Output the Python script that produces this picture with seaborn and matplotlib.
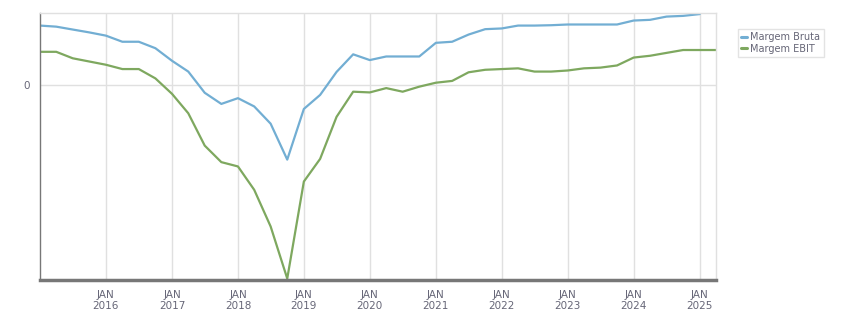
import matplotlib
matplotlib.use("Agg")
import matplotlib.pyplot as plt
import matplotlib.dates as mdates
import numpy as np
import pandas as pd
import seaborn as sns

# Quarterly dates
dates = pd.date_range("2015-01-01", periods=42, freq="QS")

margem_bruta = [16.5, 16.2, 15.4, 14.6, 13.7, 12.0, 12.0, 10.2, 6.7, 3.7, -2.2, -5.3,
                -3.7, -6.0, -10.8, -20.8, -6.7, -2.8, 3.6, 8.5, 6.9, 7.9, 7.9, 7.9,
                11.7, 12.0, 14.0, 15.5, 15.7, 16.5, 16.5, 16.6, 16.8, 16.8, 16.8, 16.8,
                17.9, 18.1, 19.0, 19.2, 19.7, np.nan]
margem_ebit = [9.2, 9.2, 7.4, 6.5, 5.6, 4.4, 4.4, 1.8, -2.5, -7.9, -16.9, -21.5,
               -22.7, -29.2, -39.4, -53.9, -26.9, -20.6, -8.9, -1.9, -2.1, -0.9, -1.9, -0.5,
               0.6, 1.1, 3.5, 4.2, 4.4, 4.6, 3.7, 3.7, 4.0, 4.6, 4.8, 5.4,
               7.6, 8.1, 8.9, 9.7, 9.7, 9.7]
series_names = ["Margem Bruta", "Margem EBIT"]
colors = ["#72aed3", "#7ea85f"]

df = pd.DataFrame({
    "data": list(dates) * 2,
    "valor": margem_bruta + margem_ebit,
    "serie": [series_names[0]] * len(dates) + [series_names[1]] * len(dates),
})

sns.set_style("white")
plt.rcParams["font.family"] = ["DejaVu Sans"]

fig = plt.figure(figsize=(8.51, 3.13), dpi=100)
ax = fig.add_axes([40 / 851, 33 / 313, 676 / 851, 267 / 313])

sns.lineplot(data=df, x="data", y="valor", hue="serie", palette=colors,
             linewidth=1.6, ax=ax, legend=True)

ymin = np.nanmin(margem_ebit)
ymax = np.nanmax(margem_bruta)
ax.set_ylim(ymin - 0.4, ymax + 0.3)
ax.set_xlim(dates[0], dates[-1])

ax.set_yticks([0])
ax.set_yticklabels(["0"])
years = list(range(2016, 2026))
ax.set_xticks([pd.Timestamp(f"{y}-01-01") for y in years])
ax.set_xticklabels([f"JAN\n{y}" for y in years])

ax.grid(True, color="#e0e0e0", linewidth=1)
ax.set_axisbelow(True)
ax.tick_params(axis="both", colors="#777777", labelcolor="#666677", labelsize=7.5,
               length=4, width=1)
ax.tick_params(axis="x", pad=3)
ax.set_xlabel("")
ax.set_ylabel("")

for s in ["top", "right"]:
    ax.spines[s].set_color("#e0e0e0")
    ax.spines[s].set_linewidth(1)
ax.spines["left"].set_color("#777777")
ax.spines["left"].set_linewidth(1)
ax.spines["bottom"].set_color("#777777")
ax.spines["bottom"].set_linewidth(2.5)

leg = ax.legend(loc="upper left", bbox_to_anchor=(738 / 851, 1 - 29 / 313),
                bbox_transform=fig.transFigure, fontsize=7, frameon=True,
                handlelength=0.6, handletextpad=0.3, borderpad=0.35,
                labelspacing=0.15, fancybox=False, borderaxespad=0)
leg.get_frame().set_edgecolor("#dddddd")
leg.get_frame().set_linewidth(1)
for t in leg.get_texts():
    t.set_color("#666677")
for l in leg.get_lines():
    l.set_linewidth(2.2)

fig.savefig("out.png", dpi=100)
